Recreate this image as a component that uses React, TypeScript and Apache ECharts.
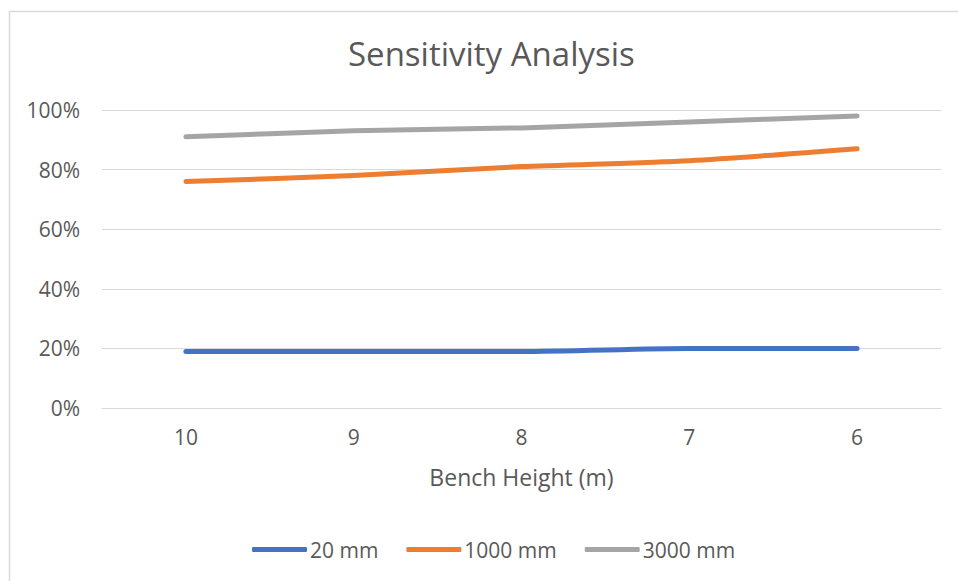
import React, { useEffect, useRef } from "react";
import * as echarts from "echarts";

const categories = ["10", "9", "8", "7", "6"];
const series20 = [0.19, 0.19, 0.19, 0.2, 0.2];
const series1000 = [0.76, 0.78, 0.81, 0.83, 0.87];
const series3000 = [0.91, 0.93, 0.94, 0.96, 0.98];
const seriesNames = ["20 mm", "1000 mm", "3000 mm"];
const colors = ["#4472C4", "#ED7D31", "#A5A5A5"];

const FONT = "'Open Sans', sans-serif";
const TXT = "#595959";

export default function App() {
  const ref = useRef<HTMLDivElement>(null);
  useEffect(() => {
    if (!ref.current) return;
    const chart = echarts.init(ref.current, undefined, { renderer: "svg" });
    const data = [series20, series1000, series3000];
    chart.setOption({
      animation: false,
      backgroundColor: "#ffffff",
      textStyle: { fontFamily: FONT },
      title: {
        text: "Sensitivity Analysis",
        left: 343,
        top: 32,
        textStyle: { fontFamily: FONT, fontSize: 33, fontWeight: "normal", color: TXT },
      },
      graphic: [
        {
          type: "rect",
          shape: { x: 9.5, y: 11.5, width: 1000, height: 1000 },
          style: { fill: "none", stroke: "#d9d9d9", lineWidth: 1.5 },
          silent: true,
        },
      ],
      legend: {
        top: 534,
        left: 247,
        icon: "roundRect",
        itemWidth: 55,
        itemHeight: 5,
        itemGap: 28,
        data: seriesNames,
        textStyle: { fontFamily: FONT, fontSize: 21, color: TXT, padding: [0, 0, 0, -2] },
      },
      grid: { left: 102, top: 110, width: 839, height: 298, containLabel: false },
      xAxis: {
        type: "category",
        data: categories,
        boundaryGap: true,
        name: "Bench Height (m)",
        nameLocation: "middle",
        nameGap: 57,
        nameTextStyle: { fontFamily: FONT, fontSize: 23, color: TXT },
        axisLine: { show: true, lineStyle: { color: "#d9d9d9", width: 1 } },
        axisTick: { show: false },
        axisLabel: { fontFamily: FONT, fontSize: 21, color: TXT, margin: 18 },
      },
      yAxis: {
        type: "value",
        min: 0,
        max: 1,
        interval: 0.2,
        axisLine: { show: false },
        axisTick: { show: false },
        splitLine: { lineStyle: { color: "#d9d9d9", width: 1 } },
        axisLabel: {
          fontFamily: FONT,
          fontSize: 21,
          color: TXT,
          margin: 22,
          formatter: (v: number) => Math.round(v * 100) + "%",
        },
      },
      series: seriesNames.map((name, i) => ({
        name,
        type: "line",
        data: data[i],
        smooth: 0.25,
        showSymbol: false,
        symbol: "none",
        color: colors[i],
        lineStyle: { color: colors[i], width: 5, cap: "round", join: "round" },
      })),
    });
    return () => chart.dispose();
  }, []);
  return (
    <div
      ref={ref}
      style={{ position: "absolute", left: 0, top: 0, width: 958, height: 581 }}
    />
  );
}
